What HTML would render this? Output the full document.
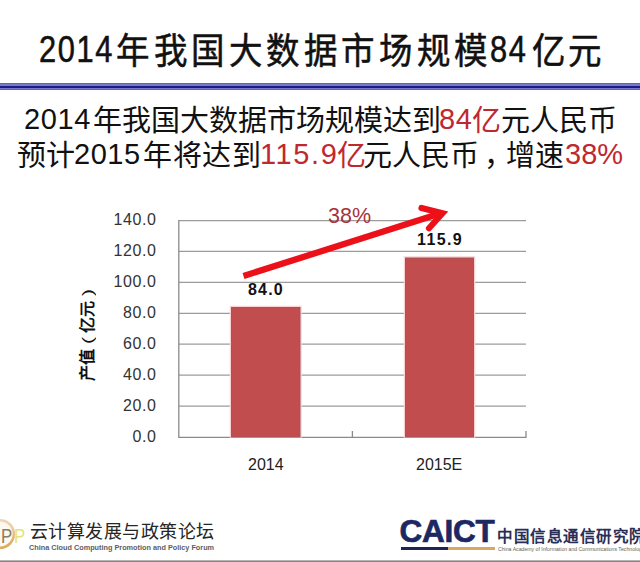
<!DOCTYPE html>
<html lang="zh-CN">
<head>
<meta charset="utf-8">
<style>
html,body{margin:0;padding:0;}
body{width:640px;height:562px;overflow:hidden;position:relative;background:#fff;font-family:"Liberation Sans",sans-serif;color:#111;}
.t{position:absolute;white-space:nowrap;line-height:1;text-spacing-trim:space-all;}
.r{color:#c0282f;}
.yl{left:60px;width:96.5px;text-align:right;font-size:16px;letter-spacing:0.6px;color:#333;}
.tt{-webkit-text-stroke:0.55px #111;}
</style>
</head>
<body>
<div class="t tt" style="left:39px;top:31.5px;font-size:36px;letter-spacing:1.9px;transform:scaleX(0.855);transform-origin:0 0;">2014</div>
<div class="t tt" style="left:116px;top:34px;font-size:36px;letter-spacing:4.4px;transform:scaleX(0.93);transform-origin:0 0;">年我国大数据市场规模</div>
<div class="t tt" style="left:489.5px;top:31.5px;font-size:36px;letter-spacing:1.9px;transform:scaleX(0.855);transform-origin:0 0;">84</div>
<div class="t tt" style="left:531.5px;top:34px;font-size:36px;letter-spacing:2.8px;transform:scaleX(0.93);transform-origin:0 0;">亿元</div>
<div style="position:absolute;left:0;top:83px;width:640px;height:7px;background:linear-gradient(#6262b4 0,#6262b4 1px,#7878d0 1px,#7878d0 3px,#1c1c80 3px,#1c1c80 5px,#7878d0 5px,#7878d0 6px,#6262b4 6px);"></div>
<div class="t" style="left:24px;top:105px;font-size:29px;letter-spacing:0.6px;">2014</div>
<div class="t" style="left:93px;top:106.5px;font-size:29px;">年我国大数据市场规模达到</div>
<div class="t r" style="left:439px;top:105px;font-size:29px;letter-spacing:0.6px;">84</div>
<div class="t r" style="left:472px;top:106.5px;font-size:29px;">亿</div>
<div class="t" style="left:501px;top:106.5px;font-size:29px;">元人民币</div>
<div class="t" style="left:17px;top:142px;font-size:29px;">预计</div>
<div class="t" style="left:74px;top:139.5px;font-size:29px;letter-spacing:0.5px;">2015</div>
<div class="t" style="left:143px;top:142px;font-size:29px;letter-spacing:0.6px;">年将达到</div>
<div class="t r" style="left:260px;top:139.5px;font-size:29px;letter-spacing:1.6px;">115.9</div>
<div class="t r" style="left:337px;top:142px;font-size:29px;">亿</div>
<div class="t" style="left:362.5px;top:142px;font-size:29px;">元人民币</div>
<div class="t" style="left:484px;top:142px;font-size:29px;">，</div>
<div class="t" style="left:506px;top:142px;font-size:29px;letter-spacing:0.4px;">增速</div>
<div class="t r" style="left:565px;top:139.5px;font-size:29px;">38%</div>

<svg style="position:absolute;left:0;top:0" width="640" height="562">
  <g stroke="#9c9c9c" stroke-width="1.25">
    <line x1="179" y1="220.5" x2="526" y2="220.5"/>
    <line x1="179" y1="251.4" x2="526" y2="251.4"/>
    <line x1="179" y1="282.4" x2="526" y2="282.4"/>
    <line x1="179" y1="313.3" x2="526" y2="313.3"/>
    <line x1="179" y1="344.2" x2="526" y2="344.2"/>
    <line x1="179" y1="375.1" x2="526" y2="375.1"/>
    <line x1="179" y1="406.1" x2="526" y2="406.1"/>
  </g>
  <g stroke="#8a8a8a" stroke-width="1.3">
    <line x1="178.8" y1="220" x2="178.8" y2="437.3"/>
    <line x1="178.2" y1="437.3" x2="526.6" y2="437.3"/>
    <line x1="352.4" y1="431" x2="352.4" y2="437.3"/>
    <line x1="526" y1="431" x2="526" y2="437.3"/>
  </g>
  <rect x="230.5" y="306.5" width="70.5" height="130.5" fill="none" stroke="#f8d4d4" stroke-width="1.5"/>
  <rect x="231.5" y="307.5" width="68.5" height="129.5" fill="#c24d4f" stroke="#a8535a" stroke-width="1"/>
  <rect x="404.5" y="257" width="70" height="180" fill="none" stroke="#f8d4d4" stroke-width="1.5"/>
  <rect x="405.5" y="258" width="68" height="179" fill="#c24d4f" stroke="#a8535a" stroke-width="1"/>
  <g stroke="#ec1018" fill="none">
    <line x1="243.5" y1="276" x2="440" y2="213.5" stroke-width="6.3"/>
    <polyline points="421.5,208 442.5,213.3 429,228.3" stroke-width="6.2" stroke-linecap="round" stroke-linejoin="miter" stroke-miterlimit="4"/>
  </g>
</svg>
<div class="t yl" style="top:212px;">140.0</div>
<div class="t yl" style="top:243px;">120.0</div>
<div class="t yl" style="top:274px;">100.0</div>
<div class="t yl" style="top:305px;">80.0</div>
<div class="t yl" style="top:336px;">60.0</div>
<div class="t yl" style="top:367px;">40.0</div>
<div class="t yl" style="top:398px;">20.0</div>
<div class="t yl" style="top:429px;">0.0</div>
<div class="t" style="left:248px;top:457px;font-size:16px;color:#222;">2014</div>
<div class="t" style="left:416px;top:457px;font-size:16px;color:#222;">2015E</div>
<div class="t" style="left:248px;top:282px;font-size:16px;font-weight:bold;letter-spacing:1.2px;color:#111;">84.0</div>
<div class="t" style="left:417px;top:232px;font-size:16px;font-weight:bold;letter-spacing:1.4px;color:#111;">115.9</div>
<div class="t" style="left:328px;top:206px;font-size:21.5px;color:#a8323c;">38%</div>
<div class="t" style="left:39px;top:323.8px;width:96px;height:17px;line-height:17px;font-size:16px;font-weight:bold;color:#111;transform:rotate(-90deg);">产值<span style="display:inline-block;width:16px;text-align:center;font-weight:normal;font-size:15px;line-height:17px;height:17px;vertical-align:top;transform:scaleX(1.5);">(</span>亿元<span style="display:inline-block;width:16px;text-align:center;font-weight:normal;font-size:15px;line-height:17px;height:17px;vertical-align:top;transform:scaleX(1.5);">)</span></div>

<!-- footer -->
<svg style="position:absolute;left:0;top:505px" width="40" height="55">
  <defs>
    <linearGradient id="ring" x1="0" y1="0" x2="0.3" y2="1">
      <stop offset="0" stop-color="#f2d4c4"/>
      <stop offset="0.5" stop-color="#ecd0a0"/>
      <stop offset="1" stop-color="#dcae60"/>
    </linearGradient>
  </defs>
  <circle cx="0" cy="29" r="13.8" fill="#fdf8f0" stroke="url(#ring)" stroke-width="2.5"/>
</svg>
<div class="t" style="left:1.2px;top:525px;font-size:21px;color:#8c7c62;transform:scaleX(0.8);transform-origin:0 0;">P</div>
<div class="t" style="left:14.4px;top:525px;font-size:21px;color:#e6e27a;transform:scaleX(0.8);transform-origin:0 0;">P</div>
<div class="t" style="left:30px;top:522.5px;font-size:18px;letter-spacing:0.45px;color:#262626;">云计算发展与政策论坛</div>
<div class="t" style="left:29px;top:544px;font-size:7.6px;font-weight:bold;color:#5e5e5e;transform:scaleX(0.96);transform-origin:0 0;">China Cloud Computing Promotion and Policy Forum</div>
<div class="t" style="left:399.5px;top:515.5px;font-size:31.5px;font-weight:bold;letter-spacing:-0.25px;color:#1d2862;-webkit-text-stroke:0.7px #1d2862;">CAICT</div>
<div style="position:absolute;left:401px;top:546.5px;width:46.5px;height:3px;background:#1d2550;"></div>
<div style="position:absolute;left:447.5px;top:546.5px;width:47.5px;height:3px;background:#d8a860;"></div>
<div class="t" style="left:497px;top:529px;font-size:15.5px;font-weight:bold;letter-spacing:0.5px;color:#2a2e56;">中国信息通信研究院</div>
<div class="t" style="left:498px;top:545.5px;font-size:6px;color:#6a6050;transform:scaleX(0.86);transform-origin:0 0;">China Academy of Information and Communications Technology</div>
<div style="position:absolute;left:0;top:560px;width:640px;height:2px;background:linear-gradient(#b4b4b4 0,#b4b4b4 1px,#858585 1px);"></div>
</body>
</html>
